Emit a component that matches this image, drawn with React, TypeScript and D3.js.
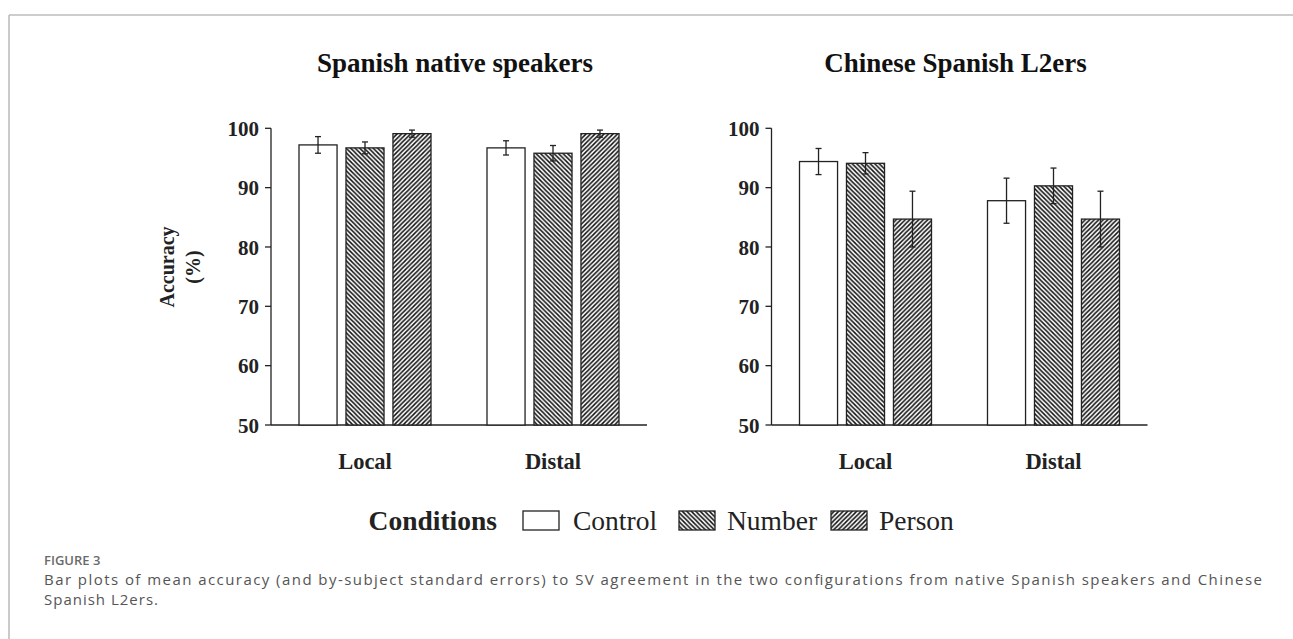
import React from 'react';
import * as d3 from 'd3';

const groups = ['Local', 'Distal'];
const conditions = ['Control', 'Number', 'Person'];
const yTicks = [50, 60, 70, 80, 90, 100];

// mean accuracy (%) per group (rows) and condition (cols)
const nativeMeans = [
  [97.2, 96.7, 99.1],
  [96.7, 95.8, 99.1],
];
const nativeSE = [
  [1.4, 1.0, 0.6],
  [1.2, 1.3, 0.6],
];
const l2Means = [
  [94.4, 94.1, 84.7],
  [87.8, 90.3, 84.7],
];
const l2SE = [
  [2.2, 1.8, 4.7],
  [3.8, 3.0, 4.7],
];

const panels = [
  { title: 'Spanish native speakers', means: nativeMeans, se: nativeSE, x0: 271, showLabel: true },
  { title: 'Chinese Spanish L2ers', means: l2Means, se: l2SE, x0: 771.5, showLabel: false },
];

const caption1 =
  'Bar plots of mean accuracy (and by-subject standard errors) to SV agreement in the two configurations from native Spanish speakers and Chinese';
const caption2 = 'Spanish L2ers.';

const W = 1293;
const H = 639;
const plotW = 376;
const yTop = 128.3;
const yBottom = 425;
const serif = '"Liberation Serif", "Times New Roman", serif';
const sans = '"Open Sans", "Noto Sans", sans-serif';

const fillFor = (c: string) =>
  c === 'Control' ? '#fff' : c === 'Number' ? 'url(#hatchBack)' : 'url(#hatchFwd)';

const Panel: React.FC<{ p: (typeof panels)[number] }> = ({ p }) => {
  const y = d3.scaleLinear().domain([50, 100]).range([yBottom, yTop]);
  const x = d3.scaleBand<string>().domain(groups).range([p.x0, p.x0 + plotW]);
  const inner = d3.scaleBand<string>().domain(conditions).range([0, 132]).paddingInner(0.19).paddingOuter(0);
  const cx = p.x0 + plotW / 2;

  return (
    <g>
      <text x={cx - 4} y={72} textAnchor="middle" fontFamily={serif} fontWeight="bold" fontSize={27} fill="#111">
        {p.title}
      </text>

      {/* y axis */}
      <line x1={p.x0} x2={p.x0} y1={yTop} y2={yBottom} stroke="#222" strokeWidth={1.3} />
      {yTicks.map((t) => (
        <g key={t}>
          <line x1={p.x0 - 6} x2={p.x0} y1={y(t)} y2={y(t)} stroke="#222" strokeWidth={1.3} />
          <text
            x={p.x0 - 12}
            y={y(t)}
            dy="0.36em"
            textAnchor="end"
            fontFamily={serif}
            fontWeight="bold"
            fontSize={21}
            fill="#222"
          >
            {t}
          </text>
        </g>
      ))}
      <line x1={p.x0} x2={p.x0 + plotW} y1={yBottom} y2={yBottom} stroke="#222" strokeWidth={1.3} />

      {p.showLabel && (
        <g fontFamily={serif} fontWeight="bold" fontSize={20} fill="#222" textAnchor="middle">
          <text transform={`translate(167,267) rotate(-90)`} dy="0.35em">
            Accuracy
          </text>
          <text transform={`translate(193,267) rotate(-90)`} dy="0.35em">
            (%)
          </text>
        </g>
      )}

      {groups.map((g, gi) => {
        const gx = (x(g) as number) + x.bandwidth() / 2 - 66;
        return (
          <g key={g}>
            {conditions.map((c, ci) => {
              const bx = gx + (inner(c) as number);
              const bw = inner.bandwidth();
              const m = p.means[gi][ci];
              const s = p.se[gi][ci];
              const mx = bx + bw / 2;
              return (
                <g key={c}>
                  <rect
                    x={bx}
                    y={y(m)}
                    width={bw}
                    height={yBottom - y(m)}
                    fill={fillFor(c)}
                    stroke="#222"
                    strokeWidth={1.3}
                  />
                  <line x1={mx} x2={mx} y1={y(m + s)} y2={y(m - s)} stroke="#222" strokeWidth={1.3} />
                  <line x1={mx - 3} x2={mx + 3} y1={y(m + s)} y2={y(m + s)} stroke="#222" strokeWidth={1.3} />
                  <line x1={mx - 3} x2={mx + 3} y1={y(m - s)} y2={y(m - s)} stroke="#222" strokeWidth={1.3} />
                </g>
              );
            })}
            <text
              x={(x(g) as number) + x.bandwidth() / 2}
              y={469}
              textAnchor="middle"
              fontFamily={serif}
              fontWeight="bold"
              fontSize={22.5}
              fill="#222"
            >
              {g}
            </text>
          </g>
        );
      })}
    </g>
  );
};

const legendItems = [
  { name: 'Control', box: 523, text: 573 },
  { name: 'Number', box: 679, text: 727 },
  { name: 'Person', box: 831, text: 879 },
];

export default function App() {
  return (
    <div style={{ position: 'absolute', left: 0, top: 0 }}>
      <svg width={W} height={H} style={{ display: 'block', background: '#fff' }}>
        <defs>
          <pattern id="hatchBack" patternUnits="userSpaceOnUse" width={4.5} height={4.5}>
            <rect width={4.5} height={4.5} fill="#fff" />
            <path d="M0,0 L4.5,4.5 M-1,3.5 L1,5.5 M3.5,-1 L5.5,1" stroke="#111" strokeWidth={1.5} />
          </pattern>
          <pattern id="hatchFwd" patternUnits="userSpaceOnUse" width={4.5} height={4.5}>
            <rect width={4.5} height={4.5} fill="#fff" />
            <path d="M0,4.5 L4.5,0 M-1,1 L1,-1 M3.5,5.5 L5.5,3.5" stroke="#111" strokeWidth={1.5} />
          </pattern>
        </defs>

        {/* page frame */}
        <line x1={9} x2={W} y1={15} y2={15} stroke="#bdbdbd" strokeWidth={1.6} />
        <line x1={9} x2={9} y1={15} y2={H} stroke="#bdbdbd" strokeWidth={1.6} />

        {panels.map((p) => (
          <Panel key={p.title} p={p} />
        ))}

        {/* legend */}
        <text x={497} y={530} textAnchor="end" fontFamily={serif} fontWeight="bold" fontSize={27.5} fill="#222">
          Conditions
        </text>
        {legendItems.map((d) => (
          <g key={d.name}>
            <rect x={d.box} y={511} width={36} height={19} fill={fillFor(d.name)} stroke="#222" strokeWidth={1.3} />
            <text x={d.text} y={530} fontFamily={serif} fontSize={27.5} fill="#222">
              {d.name}
            </text>
          </g>
        ))}

        {/* caption */}
        <text x={44} y={565} fontFamily={sans} fontWeight={600} fontSize={13} fill="#6a6a6a">
          FIGURE 3
        </text>
        <text x={44} y={585} fontFamily={sans} fontSize={15} fill="#555" textLength={1218} lengthAdjust="spacing">
          {caption1}
        </text>
        <text x={44} y={605} fontFamily={sans} fontSize={15} fill="#555" letterSpacing={1}>
          {caption2}
        </text>
      </svg>
    </div>
  );
}
